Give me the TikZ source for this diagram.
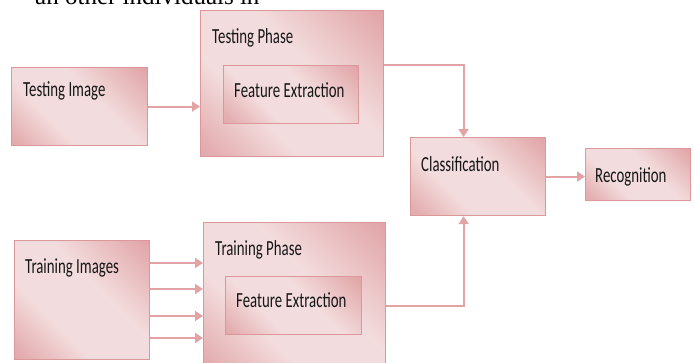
\documentclass[tikz,border=0pt]{standalone}
\usepackage{fontspec}
\setmainfont{Liberation Serif}
\newfontfamily\boxfont[FakeStretch=0.69]{Carlito}
\usetikzlibrary{arrows.meta}

\definecolor{pkdark}{HTML}{D5868A}
\definecolor{pkmid}{HTML}{DB979A}
\definecolor{pksoft}{HTML}{E4AEB0}
\definecolor{pklight}{HTML}{F3DCDD}
\definecolor{pkedge}{HTML}{DB9799}
\definecolor{pkline}{HTML}{E3A3A5}
\definecolor{txt}{HTML}{161616}

% diagonal office-style gradient: medium at one corner, pale band, dark corner
\pgfdeclarehorizontalshading{pinkdiag}{100bp}{%
  color(0bp)=(pkmid); color(18bp)=(pksoft); color(36bp)=(pklight); color(58bp)=(pklight);
  color(80bp)=(pksoft); color(100bp)=(pkdark)}

\tikzset{
  box/.style={draw=pkedge, line width=1.2pt, shading=pinkdiag, shading angle=45,
    anchor=north west, inner sep=0pt},
  lbl/.style={anchor=base west, inner sep=0pt, text=txt,
    font=\boxfont\fontsize{21.5}{23}\selectfont},
  conn/.style={draw=pkline, line width=2pt},
  arr/.style={conn, -{Triangle[length=8pt,width=10pt]}},
}

\begin{document}
\begin{tikzpicture}[x=1pt, y=-1pt]
\useasboundingbox (0,0) rectangle (694,362);
\clip (0,0) rectangle (694,362);

% running text above the figure
\node[anchor=base west, inner sep=0pt, font=\fontsize{25}{28}\selectfont] (cap) at (35,4) {an other individuals in};

% boxes
\node[box, minimum width=136pt, minimum height=78pt] (ti) at (11,67) {};
\node[box, minimum width=183pt, minimum height=146pt] (tp) at (200,10) {};
\node[box, minimum width=135pt, minimum height=58pt] (fe1) at (223,65) {};
\node[box, minimum width=135pt, minimum height=78pt] (cl) at (410,137) {};
\node[box, minimum width=105pt, minimum height=52pt] (rec) at (585,148) {};
\node[box, minimum width=135pt, minimum height=119pt] (tri) at (14,240) {};
\node[box, minimum width=182pt, minimum height=150pt] (trp) at (203,222) {};
\node[box, minimum width=136pt, minimum height=58pt] (fe2) at (225,276) {};

% labels
\node[lbl] (tiL)  at (23,96)   {Testing Image};
\node[lbl] (tpL)  at (212,43)  {Testing Phase};
\node[lbl] (fe1L) at (234,97)  {Feature Extraction};
\node[lbl] (clL)  at (421,171) {Classification};
\node[lbl] (recL) at (595,182) {Recognition};
\node[lbl] (triL) at (25,273)  {Training Images};
\node[lbl] (trpL) at (215,255) {Training Phase};
\node[lbl] (fe2L) at (236,307) {Feature Extraction};

% connectors
\draw[arr] (ti.east) -- (ti.east -| tp.west);
\draw[arr] (tp.east |- fe1.north) -| ([xshift=-14.5pt]cl.north);
\draw[arr] (trp.east |- fe2.center) -| ([xshift=-14.5pt]cl.south);
\draw[arr] (cl.east) -- (cl.east -| rec.west);
\foreach \yy in {263,289,316,338}
  \draw[arr] (tri.east |- 0,\yy) -- (trp.west |- 0,\yy);
\end{tikzpicture}
\end{document}
